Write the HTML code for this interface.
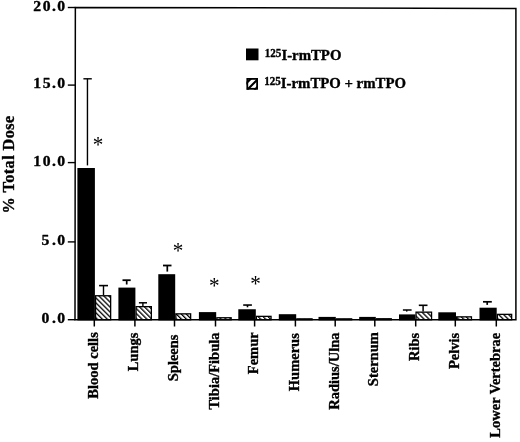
<!DOCTYPE html>
<html><head><meta charset="utf-8"><title>Biodistribution chart</title>
<style>
html,body{margin:0;padding:0;background:#fff;}
body{width:520px;height:442px;overflow:hidden;}
svg{display:block;}
text{font-family:"Liberation Serif","Times New Roman",Times,serif;fill:#000;}
.b{font-weight:bold;stroke:#000;stroke-width:0.35px;stroke-linejoin:round;}
</style></head><body>
<svg width="520" height="442" viewBox="0 0 520 442">
<defs>
<pattern id="h" width="3.5" height="3.5" patternUnits="userSpaceOnUse" patternTransform="rotate(-45)">
<rect x="0" y="0" width="1.3" height="3.5" fill="#000"/>
</pattern>
</defs>
<rect width="520" height="442" fill="#fff"/>
<path d="M75.35 7.5L515.9 8.4L515.9 319.8L75.0 319.7Z" fill="none" stroke="#000" stroke-width="1.5" stroke-linejoin="miter"/>
<line x1="67.8" y1="7.5" x2="75.3" y2="7.5" stroke="#000" stroke-width="1.4"/>
<text class="b" font-size="14" x="0.31 8.75 17.05 21.79" transform="translate(32.9 10.5) scale(1.12 1)">20.0</text>
<line x1="67.8" y1="85.1" x2="75.3" y2="85.1" stroke="#000" stroke-width="1.4"/>
<text class="b" font-size="14" x="0.31 8.75 17.05 21.79" transform="translate(32.9 88.1) scale(1.12 1)">15.0</text>
<line x1="67.8" y1="162.6" x2="75.3" y2="162.6" stroke="#000" stroke-width="1.4"/>
<text class="b" font-size="14" x="0.31 8.75 17.05 21.79" transform="translate(32.9 165.6) scale(1.12 1)">10.0</text>
<line x1="67.8" y1="241.9" x2="75.3" y2="241.9" stroke="#000" stroke-width="1.4"/>
<text class="b" font-size="14" x="7.77 17.05 21.79" transform="translate(32.9 244.9) scale(1.12 1)">5.0</text>
<line x1="67.8" y1="319.7" x2="75.3" y2="319.7" stroke="#000" stroke-width="1.4"/>
<text class="b" font-size="14" x="7.77 17.05 21.79" transform="translate(32.9 322.7) scale(1.12 1)">0.0</text>
<line x1="94.3" y1="319.7" x2="94.3" y2="326.5" stroke="#000" stroke-width="1.5"/>
<line x1="134.9" y1="319.7" x2="134.9" y2="326.5" stroke="#000" stroke-width="1.5"/>
<line x1="174.5" y1="319.7" x2="174.5" y2="326.5" stroke="#000" stroke-width="1.5"/>
<line x1="215.5" y1="319.7" x2="215.5" y2="326.5" stroke="#000" stroke-width="1.5"/>
<line x1="254.6" y1="319.7" x2="254.6" y2="326.5" stroke="#000" stroke-width="1.5"/>
<line x1="295.4" y1="319.7" x2="295.4" y2="326.5" stroke="#000" stroke-width="1.5"/>
<line x1="335.2" y1="319.7" x2="335.2" y2="326.5" stroke="#000" stroke-width="1.5"/>
<line x1="374.8" y1="319.7" x2="374.8" y2="326.5" stroke="#000" stroke-width="1.5"/>
<line x1="415.7" y1="319.7" x2="415.7" y2="326.5" stroke="#000" stroke-width="1.5"/>
<line x1="455.3" y1="319.7" x2="455.3" y2="326.5" stroke="#000" stroke-width="1.5"/>
<line x1="496.3" y1="319.7" x2="496.3" y2="326.5" stroke="#000" stroke-width="1.5"/>
<rect x="77.4" y="168.00" width="17.5" height="152.40" fill="#000"/>
<rect x="118.4" y="287.60" width="17.0" height="32.80" fill="#000"/>
<rect x="158.3" y="274.20" width="16.9" height="46.20" fill="#000"/>
<rect x="198.9" y="312.10" width="17.3" height="8.30" fill="#000"/>
<rect x="238.3" y="309.25" width="17.5" height="11.15" fill="#000"/>
<rect x="278.8" y="314.20" width="17.4" height="6.20" fill="#000"/>
<rect x="318.5" y="316.90" width="17.3" height="3.50" fill="#000"/>
<rect x="359.2" y="316.90" width="16.6" height="3.50" fill="#000"/>
<rect x="399.0" y="314.40" width="16.4" height="6.00" fill="#000"/>
<rect x="438.3" y="312.30" width="17.7" height="8.10" fill="#000"/>
<rect x="479.5" y="307.70" width="17.2" height="12.70" fill="#000"/>
<rect x="95.55" y="295.75" width="15.10" height="24.00" fill="url(#h)" stroke="#000" stroke-width="1.3"/>
<rect x="136.05" y="306.65" width="15.30" height="13.10" fill="url(#h)" stroke="#000" stroke-width="1.3"/>
<rect x="175.85" y="313.85" width="14.80" height="5.90" fill="url(#h)" stroke="#000" stroke-width="1.3"/>
<rect x="216.85" y="317.75" width="14.30" height="2.00" fill="url(#h)" stroke="#000" stroke-width="1.3"/>
<rect x="256.45" y="316.35" width="14.60" height="3.40" fill="url(#h)" stroke="#000" stroke-width="1.3"/>
<rect x="296.85" y="318.85" width="15.20" height="0.90" fill="url(#h)" stroke="#000" stroke-width="1.3"/>
<rect x="336.45" y="318.85" width="15.20" height="0.90" fill="url(#h)" stroke="#000" stroke-width="1.3"/>
<rect x="376.45" y="318.75" width="14.80" height="1.00" fill="url(#h)" stroke="#000" stroke-width="1.3"/>
<rect x="416.05" y="312.15" width="15.50" height="7.60" fill="url(#h)" stroke="#000" stroke-width="1.3"/>
<rect x="456.65" y="316.85" width="14.80" height="2.90" fill="url(#h)" stroke="#000" stroke-width="1.3"/>
<rect x="497.35" y="314.35" width="14.30" height="5.40" fill="url(#h)" stroke="#000" stroke-width="1.3"/>
<path d="M83.4 78.8H91.8" stroke="#000" stroke-width="1.4" fill="none"/>
<path d="M87.45 78.8V165.4" stroke="#000" stroke-width="1.4" fill="none"/>
<path d="M122.5 280.2H130.7" stroke="#000" stroke-width="1.8" fill="none"/>
<path d="M126.7 280.2V284.5" stroke="#000" stroke-width="1.7" fill="none"/>
<path d="M163 265.5H171.5" stroke="#000" stroke-width="1.8" fill="none"/>
<path d="M167.3 265.5V271.6" stroke="#000" stroke-width="1.7" fill="none"/>
<path d="M243.2 305.05H251.9" stroke="#000" stroke-width="1.6" fill="none"/>
<path d="M247.5 305.05V307.3" stroke="#000" stroke-width="1.6" fill="none"/>
<path d="M402.9 310H411.6" stroke="#000" stroke-width="1.5" fill="none"/>
<path d="M406.7 310V311.6" stroke="#000" stroke-width="1.5" fill="none"/>
<path d="M483 301.8H491.8" stroke="#000" stroke-width="1.7" fill="none"/>
<path d="M487.2 301.8V304.9" stroke="#000" stroke-width="1.7" fill="none"/>
<path d="M99.1 285.6H108" stroke="#000" stroke-width="1.6" fill="none"/>
<path d="M103.5 285.6V295.1" stroke="#000" stroke-width="1.4" fill="none"/>
<path d="M138.9 302.8H147" stroke="#000" stroke-width="1.5" fill="none"/>
<path d="M142.9 302.8V306" stroke="#000" stroke-width="1.4" fill="none"/>
<path d="M418.8 305.3H427.5" stroke="#000" stroke-width="1.6" fill="none"/>
<path d="M423.1 305.3V311.5" stroke="#000" stroke-width="1.5" fill="none"/>
<text class="b" font-size="14.5" text-anchor="end" transform="translate(97.7 332.2) rotate(-90)">Blood cells</text>
<text class="b" font-size="14.5" text-anchor="end" transform="translate(138.4 332.6) rotate(-90)">Lungs</text>
<text class="b" font-size="14.5" text-anchor="end" transform="translate(177.6 334.5) rotate(-90)">Spleens</text>
<text class="b" font-size="14.5" text-anchor="end" transform="translate(218.9 332.5) rotate(-90)">Tibia/Fibula</text>
<text class="b" font-size="14.5" text-anchor="end" transform="translate(258.0 332.3) rotate(-90)">Femur</text>
<text class="b" font-size="14.5" text-anchor="end" transform="translate(299.0 333.2) rotate(-90)">Humerus</text>
<text class="b" font-size="14.5" text-anchor="end" transform="translate(338.7 332.4) rotate(-90)">Radius/Ulna</text>
<text class="b" font-size="14.5" text-anchor="end" transform="translate(378.2 332.2) rotate(-90)">Sternum</text>
<text class="b" font-size="14.5" text-anchor="end" transform="translate(419.4 332.8) rotate(-90)">Ribs</text>
<text class="b" font-size="14.5" text-anchor="end" transform="translate(458.7 332.8) rotate(-90)">Pelvis</text>
<text class="b" font-size="14.5" text-anchor="end" transform="translate(499.7 332.8) rotate(-90)">Lower Vertebrae</text>
<text class="b" font-size="16.2" letter-spacing="0.45" transform="translate(13.9 213.4) rotate(-90)">% Total Dose</text>
<rect x="246" y="48.5" width="12.5" height="11.8" fill="#000"/>
<clipPath id="lc"><rect x="246.4" y="78" width="11.6" height="11.7"/></clipPath>
<g clip-path="url(#lc)"><path d="M247 90L258.5 78.5M239.6 90L251.1 78.5M254.4 90L265.9 78.5" stroke="#000" stroke-width="2.1" fill="none"/></g>
<rect x="247.3" y="78.9" width="9.8" height="9.9" fill="none" stroke="#000" stroke-width="1.8"/>
<text class="b" font-size="14.8" x="264.8" y="59.8"><tspan font-size="11.5" dy="-2.9" textLength="16.6" lengthAdjust="spacingAndGlyphs">125</tspan><tspan dy="2.9">I-rmTPO</tspan></text>
<text class="b" font-size="14.8" x="264.2" y="88.3"><tspan font-size="11.5" dy="-2.9" textLength="16.6" lengthAdjust="spacingAndGlyphs">125</tspan><tspan dy="2.9">I-rmTPO + rmTPO</tspan></text>
<text font-size="23.5" text-anchor="middle" transform="translate(98.1 151.8) scale(0.9 1)">*</text>
<text font-size="23.5" text-anchor="middle" transform="translate(178.1 258.1) scale(0.9 1)">*</text>
<text font-size="23.5" text-anchor="middle" transform="translate(214.4 292.8) scale(0.9 1)">*</text>
<text font-size="23.5" text-anchor="middle" transform="translate(255.6 290.7) scale(0.9 1)">*</text>
</svg></body></html>
